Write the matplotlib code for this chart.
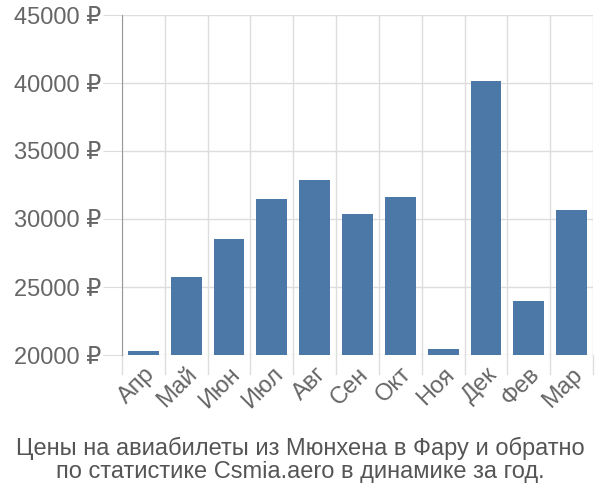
import numpy as np
import matplotlib.pyplot as plt

months = ['Апр', 'Май', 'Июн', 'Июл', 'Авг', 'Сен', 'Окт', 'Ноя', 'Дек', 'Фев', 'Мар']
prices = [20300, 25700, 28500, 31500, 32900, 30400, 31600, 20450, 40150, 24000, 30650]
yticks = [20000, 25000, 30000, 35000, 40000, 45000]
title = 'Цены на авиабилеты из Мюнхена в Фару и обратно\nпо статистике Csmia.aero в динамике за год.'

plt.rcParams['font.family'] = ['Liberation Sans', 'DejaVu Sans']

fig = plt.figure(figsize=(6, 5), dpi=100)
ax = fig.add_axes([0.2033, 0.29, 0.785, 0.68])

x = np.arange(len(months))
ax.bar(x, np.array(prices) - 20000, bottom=20000, width=0.72,
       color='#4c78a8', zorder=3)

ax.set_xlim(-0.5, len(months) - 0.5)
ax.set_ylim(20000, 45000)

# grid: vertical lines on category boundaries
for b in np.arange(len(months) + 1) - 0.5:
    ax.axvline(b, color='#dddddd', lw=1, zorder=1)
    ax.plot([b, b], [0, -0.056], transform=ax.get_xaxis_transform(),
            color='#dddddd', lw=1, clip_on=False)
for t in yticks:
    ax.axhline(t, color='#dddddd', lw=1, zorder=1)

ax.set_yticks(yticks)
ax.set_yticklabels([f'{t} ₽' for t in yticks], fontsize=17, color='#666666')
ax.tick_params(axis='y', length=14, color='#dddddd', pad=1)
ax.set_xticks(x)
ax.set_xticklabels(months, rotation=45, ha='right', rotation_mode='anchor',
                   fontsize=17, color='#666666')
ax.tick_params(axis='x', length=0, pad=6)

for s in ['top', 'right', 'bottom']:
    ax.spines[s].set_visible(False)
ax.spines['left'].set_color('#999999')
ax.spines['left'].set_zorder(4)

fig.text(0.5, 0.08, title, ha='center', va='center', fontsize=17,
         color='#555555', linespacing=1.1)

fig.savefig('out.png', dpi=100)
